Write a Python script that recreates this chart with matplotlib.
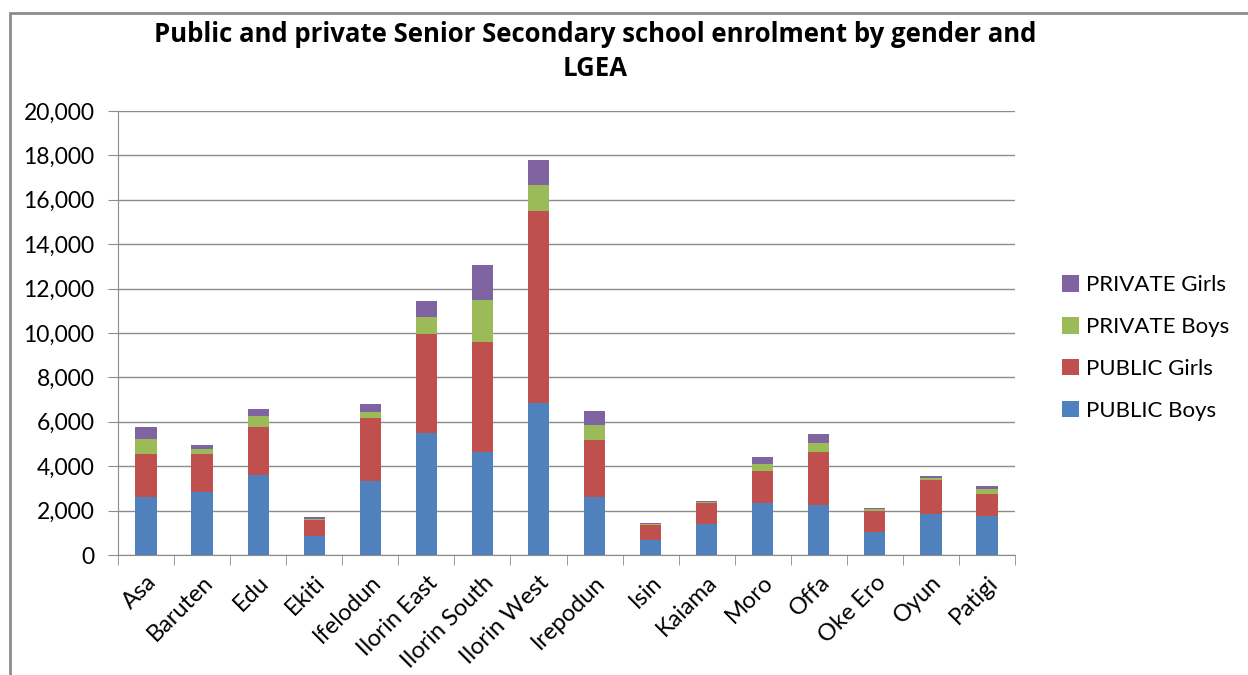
import numpy as np
import matplotlib
matplotlib.use("Agg")
import matplotlib.pyplot as plt
from matplotlib.ticker import FuncFormatter, FixedLocator
from matplotlib.patches import Rectangle

plt.rcParams['font.family'] = ['Lato', 'DejaVu Sans']

# LGEA names and enrolment
lgea = ["Asa", "Baruten", "Edu", "Ekiti", "Ifelodun", "Ilorin East", "Ilorin South",
        "Ilorin West", "Irepodun", "Isin", "Kaiama", "Moro", "Offa", "Oke Ero", "Oyun", "Patigi"]
public_boys = [2630, 2840, 3590, 840, 3350, 5490, 4660, 6830, 2620, 690, 1410, 2330, 2270, 1050, 1860, 1770]
public_girls = [1940, 1730, 2170, 720, 2820, 4460, 4930, 8660, 2570, 660, 910, 1470, 2360, 950, 1540, 970]
private_boys = [660, 210, 510, 80, 280, 760, 1900, 1170, 660, 60, 70, 320, 410, 60, 90, 240]
private_girls = [530, 170, 300, 70, 330, 720, 1580, 1130, 620, 50, 50, 300, 420, 60, 60, 120]

series = [("PUBLIC Boys", public_boys, "#4F81BD"),
          ("PUBLIC Girls", public_girls, "#C0504D"),
          ("PRIVATE Boys", private_boys, "#9BBB59"),
          ("PRIVATE Girls", private_girls, "#8064A2")]

fig = plt.figure(figsize=(12.48, 6.75), dpi=100)
ax = fig.add_axes([118/1248, 1-555/675, (1015-118)/1248, (555-111)/675])

x = np.arange(len(lgea))
bottom = np.zeros(len(lgea))
handles = []
for name, vals, col in series:
    b = ax.bar(x, vals, 0.38, bottom=bottom, color=col, label=name, zorder=3)
    handles.append(b)
    bottom += np.array(vals)

ax.set_xlim(-0.5, len(lgea) - 0.5)
ax.set_ylim(0, 20000)
ax.set_yticks(np.arange(0, 20001, 2000))
ax.yaxis.set_major_formatter(FuncFormatter(lambda v, p: f"{int(v):,}"))
ax.grid(axis='y', color='#8c8c8c', linewidth=1, zorder=0)

ax.set_xticks(x)
ax.set_xticklabels(lgea, rotation=45, ha='right', rotation_mode='anchor')
ax.xaxis.set_minor_locator(FixedLocator(np.arange(-0.5, len(lgea), 1)))
ax.tick_params(axis='x', which='major', length=0, pad=12, labelsize=17)
ax.tick_params(axis='x', which='minor', length=7, color='#8c8c8c')
ax.tick_params(axis='y', length=7, color='#8c8c8c', pad=10, labelsize=16.5)

for s in ['top', 'right']:
    ax.spines[s].set_visible(False)
for s in ['left', 'bottom']:
    ax.spines[s].set_color('#8c8c8c')

title_font = dict(ha='center', va='center', fontsize=18.5, fontweight='bold',
                  family=['Open Sans', 'DejaVu Sans'])
fig.text(595/1248, 1-35/675, "Public and private Senior Secondary school enrolment by gender and",
         **title_font)
fig.text(595/1248, 1-68/675, "LGEA", **title_font)

leg = fig.legend(handles[::-1], [s[0] for s in series][::-1], loc='center left',
                 bbox_to_anchor=(1042/1248, 1-348/675), frameon=False, fontsize=16,
                 handlelength=0.75, handleheight=0.75, labelspacing=0.98, handletextpad=0.35)

# chart border
fig.patches.append(Rectangle((10/1248, -0.1), 1.2, 1-13/675 + 0.1, transform=fig.transFigure,
                             fill=False, edgecolor='#8c8c8c', linewidth=2))

fig.savefig("out.png", dpi=100)
